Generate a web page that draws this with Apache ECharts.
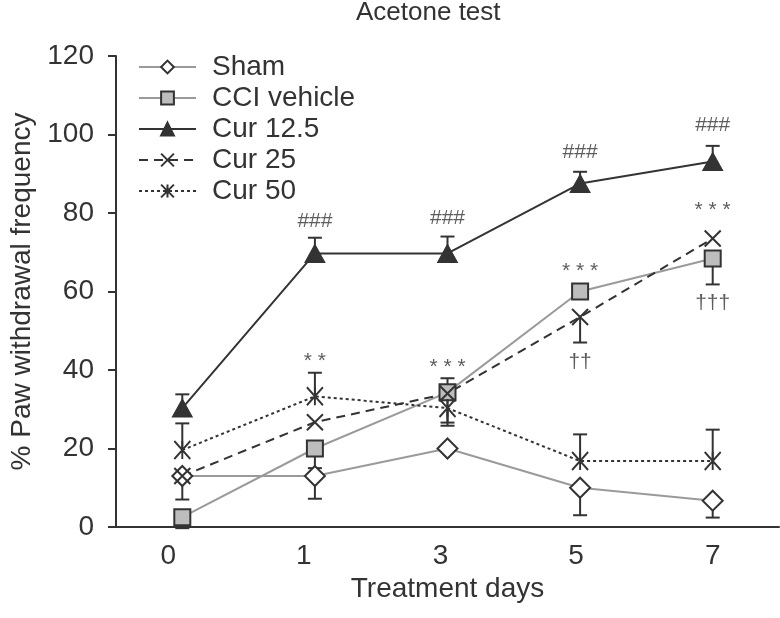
<!DOCTYPE html>
<html>
<head>
<meta charset="utf-8">
<script src="https://cdn.jsdelivr.net/npm/echarts@6/dist/echarts.min.js"></script>
<style>
  html, body { margin: 0; padding: 0; background: #fff; }
  #chart { width: 780px; height: 618px; }
</style>
</head>
<body>
<div id="chart"></div>
<script>
// treatment days
const days = ['0', '1', '3', '5', '7'];

// mean values (%)
const sham = [13, 13, 20, 10, 6.7];
const cciVehicle = [2.5, 20, 34.3, 60, 68.4];
const cur125 = [30.3, 69.7, 69.7, 87.5, 93.1];
const cur25 = [13, 26.7, 34, 53.5, 73.5];
const cur50 = [19.6, 33.3, 30.3, 16.8, 16.8];

// error bar sizes, signed: + drawn upward, - drawn downward, 0 none
const shamErr = [-6, -5.8, 0, -7, -4.3];
const cciErr = [-2.8, -5, 3.6, 0, -6.6];
const cur125Err = [3.5, 4, 4.3, 3, 4];
const cur25Err = [0, 0, -7.4, -6.5, 0];
const cur50Err = [6.8, 6, -4.5, 6.8, 8];

// significance marks
const markDay = [1, 2, 3, 4, 1, 2, 3, 4, 3, 4];
const markY = [78, 78.6, 95.4, 102.3, 42.3, 40.7, 65.2, 80.7, 42, 57];
const markText = ['###', '###', '###', '###', '* *', '* * *', '* * *', '* * *', '††', '†††'];

const dark = '#333';
const grey = '#9a9a9a';
const font = 'Liberation Sans, Arial, sans-serif';

// the day labels in the figure sit a little left of the data columns
const labelShift = { d0: 28, d1: 22, d3: 14, d5: 8, d7: 0 };
const dayRich = {};
Object.keys(labelShift).forEach(k => {
  dayRich[k] = { fontFamily: font, fontSize: 28, color: dark, padding: [0, labelShift[k], 0, 0] };
});

function errSeries(name, values, errs) {
  const data = values.map((v, i) => [i, v, v + errs[i]]).filter((d, i) => errs[i] !== 0);
  return {
    name: name + ' err',
    type: 'custom',
    z: 1,
    silent: true,
    data: data,
    renderItem: function (params, api) {
      const a = api.coord([api.value(0), api.value(1)]);
      const b = api.coord([api.value(0), api.value(2)]);
      const half = 7;
      return {
        type: 'group',
        children: [
          { type: 'line', shape: { x1: a[0], y1: a[1], x2: b[0], y2: b[1] }, style: { stroke: dark, lineWidth: 2 } },
          { type: 'line', shape: { x1: b[0] - half, y1: b[1], x2: b[0] + half, y2: b[1] }, style: { stroke: dark, lineWidth: 2 } }
        ]
      };
    }
  };
}

const chart = echarts.init(document.getElementById('chart'));

chart.setOption({
  animation: false,
  title: {
    text: 'Acetone test',
    left: 356,
    top: 0,
    padding: 0,
    textStyle: { fontFamily: font, fontSize: 26, fontWeight: 'normal', color: dark }
  },
  legend: {
    orient: 'vertical',
    left: 133,
    top: 48,
    itemWidth: 57,
    itemHeight: 16,
    itemGap: 3,
    data: ['Sham', 'CCI vehicle', 'Cur 12.5', 'Cur 25', 'Cur 50'],
    textStyle: { fontFamily: font, fontSize: 28, color: dark, padding: [0, 0, 0, 11] }
  },
  grid: { left: 107, right: 1, top: 56, bottom: 91 },
  xAxis: {
    type: 'category',
    data: days,
    name: 'Treatment days',
    nameLocation: 'middle',
    nameGap: 42,
    nameTextStyle: { fontFamily: font, fontSize: 28, color: dark },
    axisLine: { lineStyle: { color: dark, width: 2 } },
    axisTick: { length: 8, lineStyle: { color: dark, width: 2 } },
    axisLabel: {
      fontFamily: font, fontSize: 28, color: dark, margin: 15,
      formatter: v => '{d' + v + '|' + v + '}',
      rich: dayRich
    }
  },
  yAxis: {
    type: 'value',
    min: 0,
    max: 120,
    interval: 20,
    name: '% Paw withdrawal frequency',
    nameLocation: 'middle',
    nameGap: 80,
    nameTextStyle: { fontFamily: font, fontSize: 28, color: dark },
    splitLine: { show: false },
    axisLine: { show: true, lineStyle: { color: dark, width: 2 } },
    axisTick: { show: true, length: 8, lineStyle: { color: dark, width: 2 } },
    axisLabel: { fontFamily: font, fontSize: 28, color: dark, margin: 22 }
  },
  series: [
    errSeries('Sham', sham, shamErr),
    errSeries('CCI vehicle', cciVehicle, cciErr),
    errSeries('Cur 12.5', cur125, cur125Err),
    errSeries('Cur 25', cur25, cur25Err),
    errSeries('Cur 50', cur50, cur50Err),
    {
      name: 'Sham', type: 'line', data: sham, z: 3,
      symbol: 'diamond', symbolSize: 20,
      lineStyle: { color: grey, width: 2 },
      itemStyle: { color: '#fff', borderColor: dark, borderWidth: 2 }
    },
    {
      name: 'CCI vehicle', type: 'line', data: cciVehicle, z: 3,
      symbol: 'rect', symbolSize: 16,
      lineStyle: { color: grey, width: 2 },
      itemStyle: { color: '#bdbdbd', borderColor: dark, borderWidth: 2 }
    },
    {
      name: 'Cur 12.5', type: 'line', data: cur125, z: 4,
      symbol: 'triangle', symbolSize: [20, 18],
      lineStyle: { color: dark, width: 2 },
      itemStyle: { color: dark, borderColor: dark, borderWidth: 1 }
    },
    {
      name: 'Cur 25', type: 'line', data: cur25, z: 3,
      symbol: 'path://M0,0L10,10M10,0L0,10', symbolSize: 16,
      lineStyle: { color: dark, width: 2, type: [9, 6] },
      itemStyle: { color: 'rgba(0,0,0,0)', borderColor: dark, borderWidth: 2 }
    },
    {
      name: 'Cur 50', type: 'line', data: cur50, z: 3,
      symbol: 'path://M0,0L10,12M10,0L0,12M5,0L5,12', symbolSize: [16, 18],
      lineStyle: { color: dark, width: 2, type: [3, 3] },
      itemStyle: { color: 'rgba(0,0,0,0)', borderColor: dark, borderWidth: 2 }
    },
    {
      name: 'marks', type: 'scatter', z: 5, silent: true,
      symbolSize: 0,
      data: markDay.map((d, i) => ({ value: [d, markY[i]], name: markText[i] })),
      label: {
        show: true, position: 'inside', formatter: p => p.name,
        fontFamily: font, fontSize: 21, color: dark
      }
    }
  ]
});
</script>
</body>
</html>
